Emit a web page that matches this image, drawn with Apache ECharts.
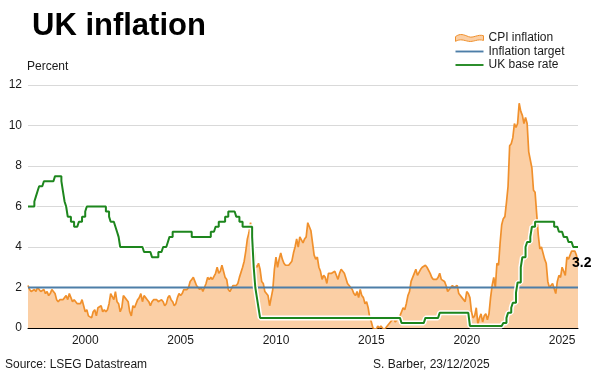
<!DOCTYPE html>
<html>
<head>
<meta charset="utf-8" />
<title>UK inflation</title>
<style>
  html, body { margin: 0; padding: 0; background: #fff; }
  #chart { width: 600px; height: 376px; }
</style>
</head>
<body>
<div id="chart"></div>
<script src="https://cdn.jsdelivr.net/npm/echarts@6/dist/echarts.min.js"></script>
<script>
// CPI annual rate, %, one row per year (1997..2025), monthly
var cpiRows = [
  [2.1,1.9,1.8,1.8,1.9,1.8,2.0,2.0,1.8,1.8,1.9,1.7],
  [1.8,1.6,1.7,1.9,1.8,1.7,1.4,1.3,1.4,1.4,1.4,1.5],
  [1.6,1.4,1.7,1.5,1.3,1.4,1.3,1.2,1.2,1.2,1.4,1.1],
  [0.8,0.9,0.6,0.6,0.5,0.8,0.9,0.6,1.0,1.0,1.1,0.8],
  [0.9,0.8,0.9,1.2,1.7,1.7,1.4,1.8,1.3,1.2,0.8,1.0],
  [1.6,1.5,1.5,1.3,0.8,0.6,1.1,1.0,1.0,1.4,1.5,1.7],
  [1.3,1.6,1.5,1.4,1.3,1.1,1.3,1.4,1.4,1.4,1.3,1.3],
  [1.4,1.3,1.1,1.2,1.5,1.6,1.4,1.3,1.1,1.2,1.5,1.7],
  [1.6,1.7,1.9,1.9,1.9,2.0,2.3,2.4,2.5,2.3,2.1,2.0],
  [1.9,2.0,1.8,2.0,2.2,2.5,2.4,2.5,2.4,2.4,2.7,3.0],
  [2.7,2.8,3.1,2.8,2.5,2.4,1.9,1.8,1.8,2.1,2.1,2.1],
  [2.2,2.5,2.5,3.0,3.3,3.8,4.4,4.7,5.2,4.5,4.1,3.1],
  [3.0,3.2,2.9,2.3,2.2,1.8,1.8,1.6,1.1,1.5,1.9,2.9],
  [3.5,3.0,3.4,3.7,3.4,3.2,3.1,3.1,3.1,3.2,3.3,3.7],
  [4.0,4.4,4.0,4.5,4.5,4.2,4.4,4.5,5.2,5.0,4.8,4.2],
  [3.6,3.4,3.5,3.0,2.8,2.4,2.6,2.5,2.2,2.7,2.7,2.7],
  [2.7,2.8,2.8,2.4,2.7,2.9,2.8,2.7,2.7,2.2,2.1,2.0],
  [1.9,1.7,1.6,1.8,1.5,1.9,1.6,1.5,1.2,1.3,1.0,0.5],
  [0.3,0.0,0.0,-0.1,0.1,0.0,0.1,0.0,-0.1,-0.1,0.1,0.2],
  [0.3,0.3,0.5,0.3,0.3,0.5,0.6,0.6,1.0,0.9,1.2,1.6],
  [1.8,2.3,2.3,2.7,2.9,2.6,2.6,2.9,3.0,3.0,3.1,3.0],
  [3.0,2.7,2.5,2.4,2.4,2.4,2.5,2.7,2.4,2.4,2.3,2.1],
  [1.8,1.9,1.9,2.1,2.0,2.0,2.1,1.7,1.7,1.5,1.5,1.3],
  [1.8,1.7,1.5,0.8,0.5,0.6,1.0,0.2,0.5,0.7,0.3,0.6],
  [0.7,0.4,0.7,1.5,2.1,2.5,2.0,3.2,3.1,4.2,5.1,5.4],
  [5.5,6.2,7.0,9.0,9.1,9.4,10.1,9.9,10.1,11.1,10.7,10.5],
  [10.1,10.4,10.1,8.7,8.7,7.9,6.8,6.7,6.7,4.6,3.9,4.0],
  [4.0,3.4,3.2,2.3,2.0,2.0,2.2,2.2,1.7,2.3,2.6,2.5],
  [3.0,2.8,2.6,3.5,3.4,3.6,3.8,3.8,3.8,3.6,3.2]
];

// Bank Rate, %, month end, one row per year (1997..2025)
var rateRows = [
  [6,6,6,6,6.25,6.5,6.75,7,7,7,7.25,7.25],
  [7.25,7.25,7.25,7.25,7.25,7.5,7.5,7.5,7.5,7.25,6.75,6.25],
  [6,5.5,5.5,5.25,5.25,5,5,5,5.25,5.25,5.5,5.5],
  [5.75,6,6,6,6,6,6,6,6,6,6,6],
  [6,5.75,5.75,5.5,5.25,5.25,5.25,5,4.75,4.5,4,4],
  [4,4,4,4,4,4,4,4,4,4,4,4],
  [4,3.75,3.75,3.75,3.75,3.75,3.5,3.5,3.5,3.5,3.75,3.75],
  [3.75,4,4,4,4.25,4.5,4.5,4.75,4.75,4.75,4.75,4.75],
  [4.75,4.75,4.75,4.75,4.75,4.75,4.75,4.5,4.5,4.5,4.5,4.5],
  [4.5,4.5,4.5,4.5,4.5,4.5,4.5,4.75,4.75,4.75,5,5],
  [5.25,5.25,5.25,5.25,5.5,5.5,5.75,5.75,5.75,5.75,5.75,5.5],
  [5.5,5.25,5.25,5,5,5,5,5,5,4.5,3,2],
  [1.5,1,0.5,0.5,0.5,0.5,0.5,0.5,0.5,0.5,0.5,0.5],
  [0.5,0.5,0.5,0.5,0.5,0.5,0.5,0.5,0.5,0.5,0.5,0.5],
  [0.5,0.5,0.5,0.5,0.5,0.5,0.5,0.5,0.5,0.5,0.5,0.5],
  [0.5,0.5,0.5,0.5,0.5,0.5,0.5,0.5,0.5,0.5,0.5,0.5],
  [0.5,0.5,0.5,0.5,0.5,0.5,0.5,0.5,0.5,0.5,0.5,0.5],
  [0.5,0.5,0.5,0.5,0.5,0.5,0.5,0.5,0.5,0.5,0.5,0.5],
  [0.5,0.5,0.5,0.5,0.5,0.5,0.5,0.5,0.5,0.5,0.5,0.5],
  [0.5,0.5,0.5,0.5,0.5,0.5,0.5,0.25,0.25,0.25,0.25,0.25],
  [0.25,0.25,0.25,0.25,0.25,0.25,0.25,0.25,0.25,0.25,0.5,0.5],
  [0.5,0.5,0.5,0.5,0.5,0.5,0.5,0.75,0.75,0.75,0.75,0.75],
  [0.75,0.75,0.75,0.75,0.75,0.75,0.75,0.75,0.75,0.75,0.75,0.75],
  [0.75,0.75,0.1,0.1,0.1,0.1,0.1,0.1,0.1,0.1,0.1,0.1],
  [0.1,0.1,0.1,0.1,0.1,0.1,0.1,0.1,0.1,0.1,0.1,0.25],
  [0.25,0.5,0.75,0.75,1,1.25,1.25,1.75,2.25,2.25,3,3.5],
  [3.5,4,4.25,4.25,4.5,5,5,5.25,5.25,5.25,5.25,5.25],
  [5.25,5.25,5.25,5.25,5.25,5.25,5.25,5,5,5,4.75,4.75],
  [4.75,4.5,4.5,4.5,4.25,4.25,4.25,4,4,4,4]
];

var firstYear = 1997;
var inflationTarget = 2;
var yearLabels = ['2000','2005','2010','2015','2020','2025'];

var months = [];
var cpi = [];
var rate = [];
for (var y = 0; y < cpiRows.length; y++) {
  for (var m = 0; m < cpiRows[y].length; m++) {
    months.push((firstYear + y) + '-' + (m < 9 ? '0' : '') + (m + 1));
    cpi.push(cpiRows[y][m]);
    rate.push(rateRows[y][m]);
  }
}

var orange = '#f0902c';
var peach = '#fbcfa5';
var blue = '#4d7ea8';
var green = '#1d861d';
var font = 'Liberation Sans, Arial, sans-serif';
var lineIcon = 'path://M0,0 L30,0 L30,2 L0,2 Z';

var chart = echarts.init(document.getElementById('chart'));

var option = {
  animation: false,
  backgroundColor: '#fff',
  textStyle: { fontFamily: font },
  title: {
    text: 'UK inflation',
    left: 27, top: 6,
    textStyle: { fontSize: 31, fontWeight: 'bold', color: '#000', fontFamily: font }
  },
  legend: {
    orient: 'vertical',
    left: 455, top: 32,
    padding: 0,
    itemWidth: 28, itemHeight: 8, itemGap: 1.5,
    textStyle: { fontSize: 12, color: '#1a1a1a' },
    data: [
      { name: 'CPI inflation',
        icon: 'path://M0,4 C5,0 9,2 14,4 C19,6 24,1 30,3 L30,8 C24,6 19,10 14,9 C9,8 5,6 0,9 Z',
        itemStyle: { color: peach, borderColor: orange, borderWidth: 1 } },
      { name: 'Inflation target', icon: lineIcon, itemStyle: { color: blue, borderWidth: 0 } },
      { name: 'UK base rate', icon: lineIcon, itemStyle: { color: green, borderWidth: 0 } }
    ]
  },
  grid: { left: 28, right: 22, top: 85, bottom: 48 },
  xAxis: {
    type: 'category',
    data: months,
    boundaryGap: false,
    axisLine: { lineStyle: { color: '#000', width: 1 } },
    axisTick: { show: false },
    axisLabel: {
      margin: 7, fontSize: 12, color: '#1a1a1a',
      interval: function (i, v) {
        return v.slice(5) === '01' && yearLabels.indexOf(v.slice(0, 4)) >= 0;
      },
      formatter: function (v) { return v.slice(0, 4); }
    },
    splitLine: { show: false }
  },
  yAxis: {
    type: 'value',
    min: 0, max: 12, interval: 2,
    name: 'Percent',
    nameLocation: 'end',
    nameGap: 12,
    nameTextStyle: { align: 'left', fontSize: 12, color: '#1a1a1a', padding: [0, 0, 0, -1] },
    axisLine: { show: false },
    axisTick: { show: false },
    axisLabel: { margin: 6, fontSize: 12, color: '#1a1a1a' },
    splitLine: { lineStyle: { color: '#d9d9d9', width: 1 } }
  },
  series: [
    {
      name: 'CPI inflation',
      type: 'line',
      data: cpi,
      symbol: 'none',
      z: 2,
      lineStyle: { color: orange, width: 1.7 },
      itemStyle: { color: orange },
      areaStyle: { color: peach, opacity: 1 },
      endLabel: {
        show: true,
        formatter: function (p) { return p.value.toFixed(1); },
        fontSize: 14, fontWeight: 'bold', color: '#000',
        distance: 0, offset: [-6, 0]
      }
    },
    {
      name: 'Inflation target',
      type: 'line',
      data: [[months[0], inflationTarget], [months[months.length - 1], inflationTarget]],
      symbol: 'none',
      z: 3,
      lineStyle: { color: blue, width: 2 },
      itemStyle: { color: blue }
    },
    {
      name: 'halo',
      type: 'line',
      data: rate,
      step: 'end',
      symbol: 'none',
      z: 4,
      silent: true,
      lineStyle: { color: '#fff', width: 5 }
    },
    {
      name: 'UK base rate',
      type: 'line',
      data: rate,
      step: 'end',
      symbol: 'none',
      z: 5,
      lineStyle: { color: green, width: 2 },
      itemStyle: { color: green }
    }
  ],
  graphic: [
    { type: 'text', left: 5, top: 359,
      style: { text: 'Source: LSEG Datastream', fontSize: 12, fill: '#1a1a1a', fontFamily: font } },
    { type: 'text', left: 373, top: 359,
      style: { text: 'S. Barber, 23/12/2025', fontSize: 12, fill: '#1a1a1a', fontFamily: font } }
  ]
};

chart.setOption(option);
</script>
</body>
</html>
